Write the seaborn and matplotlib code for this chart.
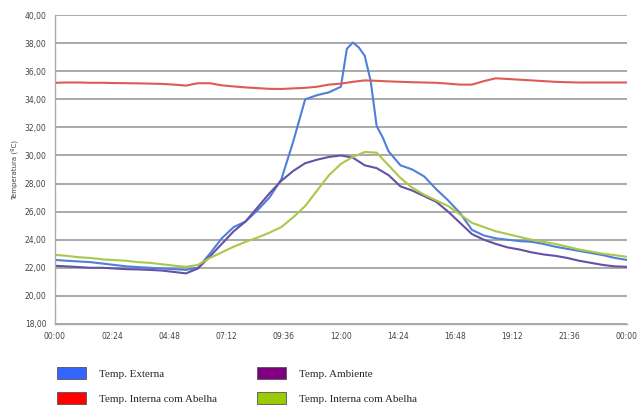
import numpy as np
import pandas as pd
import seaborn as sns
import matplotlib.pyplot as plt
from matplotlib.patches import Patch

# hours of day for the half-hour readings
hours = [i * 0.5 for i in range(49)]
# the outdoor series has extra readings around its peak
hours_ext = hours[:25] + [12.25, 12.5, 12.75, 13.0, 13.25, 13.5, 13.75] + hours[28:]

temp_externa = [22.56, 22.5, 22.45, 22.4, 22.3, 22.2, 22.1, 22.05, 22.0, 21.95,
                21.9, 21.85, 22.0, 23.0, 24.1, 24.9, 25.3, 26.1, 27.0, 28.3,
                31.0, 34.0, 34.3, 34.5, 34.9,
                37.6, 38.05, 37.7, 37.1, 35.3, 32.1, 31.3,
                30.3, 29.3, 29.0, 28.5, 27.6, 26.8, 25.9, 24.7, 24.3, 24.1,
                24.0, 23.9, 23.85, 23.7, 23.5, 23.35, 23.2, 23.05, 22.9, 22.7,
                22.56]
temp_ambiente = [22.14, 22.1, 22.05, 22.0, 22.0, 21.95, 21.9, 21.88, 21.85, 21.8,
                 21.7, 21.6, 21.95, 22.8, 23.7, 24.6, 25.3, 26.3, 27.3, 28.2,
                 28.9, 29.45, 29.7, 29.9, 30.0, 29.85, 29.3, 29.1, 28.6, 27.8,
                 27.5, 27.1, 26.7, 26.0, 25.2, 24.4, 24.0, 23.7, 23.45, 23.3,
                 23.1, 22.95, 22.85, 22.7, 22.5, 22.35, 22.2, 22.1, 22.07]
temp_interna_red = [35.18, 35.2, 35.2, 35.18, 35.18, 35.16, 35.15, 35.14, 35.12, 35.1,
                    35.05, 34.98, 35.15, 35.15, 35.0, 34.92, 34.85, 34.8, 34.75, 34.74,
                    34.78, 34.82, 34.9, 35.05, 35.12, 35.25, 35.35, 35.32, 35.28, 35.25,
                    35.22, 35.2, 35.18, 35.12, 35.05, 35.05, 35.3, 35.5, 35.45, 35.4,
                    35.35, 35.3, 35.25, 35.22, 35.2, 35.2, 35.2, 35.2, 35.2]
temp_interna_green = [22.92, 22.85, 22.75, 22.7, 22.6, 22.55, 22.5, 22.4, 22.35, 22.25,
                      22.15, 22.07, 22.2, 22.7, 23.1, 23.5, 23.85, 24.15, 24.5, 24.9,
                      25.6, 26.4, 27.5, 28.6, 29.4, 29.9, 30.25, 30.2, 29.3, 28.4,
                      27.7, 27.2, 26.8, 26.4, 25.8, 25.2, 24.9, 24.6, 24.4, 24.2,
                      24.0, 23.85, 23.7, 23.5, 23.3, 23.15, 23.0, 22.9, 22.78]

series_names = ["Temp. Externa", "Temp. Ambiente", "Temp. Interna com Abelha", "Temp. Interna com Abelha "]
line_colors = ["#4f7fd8", "#6650a8", "#dd5a55", "#a9c84a"]
legend_colors = ["#3366ff", "#800080", "#ff0000", "#99cc00"]
x_ticks = [0, 2.4, 4.8, 7.2, 9.6, 12, 14.4, 16.8, 19.2, 21.6, 24]
x_labels = ["00:00", "02:24", "04:48", "07:12", "09:36", "12:00",
            "14:24", "16:48", "19:12", "21:36", "00:00"]
y_ticks = list(range(18, 41, 2))

df = pd.concat([
    pd.DataFrame({"hora": hours_ext, "temp": temp_externa, "serie": series_names[0]}),
    pd.DataFrame({"hora": hours, "temp": temp_ambiente, "serie": series_names[1]}),
    pd.DataFrame({"hora": hours, "temp": temp_interna_red, "serie": series_names[2]}),
    pd.DataFrame({"hora": hours, "temp": temp_interna_green, "serie": series_names[3]}),
])

sns.set_style("white")
fig = plt.figure(figsize=(6.39, 4.09), dpi=100)
ax = fig.add_axes([0.086, 0.208, 0.895, 0.755])

ax.set_yticks(y_ticks)
ax.yaxis.grid(True, color="#a3a3a3", linewidth=1.3)
ax.set_axisbelow(True)

sns.lineplot(data=df, x="hora", y="temp", hue="serie", hue_order=series_names,
             palette=dict(zip(series_names, line_colors)), estimator=None,
             sort=False, linewidth=1.5, legend=False, ax=ax)

ax.set_xlim(0, 24)
ax.set_ylim(18, 40)
ax.set_xticks(x_ticks)
ax.set_xticklabels(x_labels)
ax.set_yticklabels([f"{v},00" for v in y_ticks])
ax.tick_params(axis="both", labelsize=5.5, colors="#444444", length=2, pad=6)
ax.tick_params(axis="x", direction="in", color="#aaaaaa")
ax.tick_params(axis="y", length=0)
ax.set_xlabel("")
ax.set_ylabel("Temperatura (ºC)", fontsize=5, color="#444444", labelpad=5)
for s in ["top", "right"]:
    ax.spines[s].set_visible(False)
for s in ["left", "bottom"]:
    ax.spines[s].set_color("#aaaaaa")
    ax.spines[s].set_linewidth(1.0)

handles = [Patch(facecolor=legend_colors[i], edgecolor="#555555", linewidth=0.6)
           for i in [0, 2, 1, 3]]
labels = [series_names[i].strip() for i in [0, 2, 1, 3]]
fig.legend(handles, labels, ncol=2, loc="upper left", bbox_to_anchor=(0.073, 0.127),
           frameon=False, prop={"family": "Liberation Serif", "size": 8},
           handlelength=2.6, handleheight=1.25, columnspacing=3.6, labelspacing=1.2,
           handletextpad=1.2)

fig.savefig("out.png", dpi=100)
